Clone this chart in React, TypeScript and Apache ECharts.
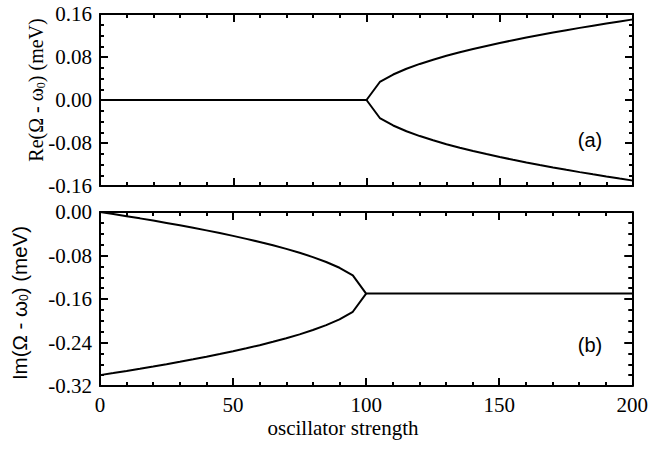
import React, { useEffect, useRef } from "react";
import * as echarts from "echarts";

const xs = [0, 5, 10, 15, 20, 25, 30, 35, 40, 45, 50, 55, 60, 65, 70, 75, 80, 85, 90, 95, 100,
  105, 110, 115, 120, 125, 130, 135, 140, 145, 150, 155, 160, 165, 170, 175, 180, 185, 190, 195, 200];

const reUpper = [0, 0, 0, 0, 0, 0, 0, 0, 0, 0, 0, 0, 0, 0, 0, 0, 0, 0, 0, 0, 0,
  0.0335, 0.0474, 0.0581, 0.0671, 0.075, 0.0822, 0.0887, 0.0949, 0.1006, 0.1061,
  0.1112, 0.1162, 0.1209, 0.1255, 0.1299, 0.1342, 0.1383, 0.1423, 0.1462, 0.15];

const reLower = [0, 0, 0, 0, 0, 0, 0, 0, 0, 0, 0, 0, 0, 0, 0, 0, 0, 0, 0, 0, 0,
  -0.0335, -0.0474, -0.0581, -0.0671, -0.075, -0.0822, -0.0887, -0.0949, -0.1006, -0.1061,
  -0.1112, -0.1162, -0.1209, -0.1255, -0.1299, -0.1342, -0.1383, -0.1423, -0.1462, -0.15];

const imUpper = [0, -0.0038, -0.0077, -0.0117, -0.0158, -0.0201, -0.0245, -0.0291, -0.0338, -0.0388,
  -0.0439, -0.0494, -0.0551, -0.0613, -0.0678, -0.075, -0.0829, -0.0919, -0.1026, -0.1165, -0.15,
  -0.15, -0.15, -0.15, -0.15, -0.15, -0.15, -0.15, -0.15, -0.15, -0.15,
  -0.15, -0.15, -0.15, -0.15, -0.15, -0.15, -0.15, -0.15, -0.15, -0.15];

const imLower = [-0.3, -0.2962, -0.2923, -0.2883, -0.2842, -0.2799, -0.2755, -0.2709, -0.2662, -0.2612,
  -0.2561, -0.2506, -0.2449, -0.2387, -0.2322, -0.225, -0.2171, -0.2081, -0.1974, -0.1835, -0.15];

const xTicks = [0, 50, 100, 150, 200];
const reTicks = [-0.16, -0.08, 0.0, 0.08, 0.16];
const imTicks = [-0.32, -0.24, -0.16, -0.08, 0.0];

const SERIF = "Liberation Serif";
const SANS = "Liberation Sans";

const pairs = (ys: number[]) => ys.map((y, i) => [xs[i], y]);

const fmt = (v: number) => (Math.abs(v) < 1e-9 ? "0.00" : v.toFixed(2));

export default function App() {
  const ref = useRef<HTMLDivElement>(null);
  useEffect(() => {
    if (!ref.current) return;
    const chart = echarts.init(ref.current, undefined, { renderer: "svg" });
    const axisLine = { show: true, onZero: false, lineStyle: { color: "#000", width: 2 } };
    const axisTick = { show: true, inside: true, length: 8, lineStyle: { color: "#000", width: 2 } };
    const minorTick = { show: true, length: 4, lineStyle: { color: "#000", width: 2 } };
    const labelStyle = {
      color: "#000",
      fontFamily: SERIF,
      fontSize: 21,
      fontWeight: "normal",
    };
    const xBase = (grid: number, pos: string, labels: boolean) => ({
      type: "value",
      gridIndex: grid,
      position: pos,
      min: xTicks[0],
      max: xTicks[xTicks.length - 1],
      interval: 50,
      axisLine,
      axisTick,
      minorTick: { ...minorTick, splitNumber: 5 },
      splitLine: { show: false },
      axisLabel: { show: labels, margin: 8, ...labelStyle },
    });
    const yBase = (grid: number, pos: string, labels: boolean, ticks: number[]) => ({
      type: "value",
      gridIndex: grid,
      position: pos,
      min: ticks[0],
      max: ticks[ticks.length - 1],
      interval: 0.08,
      axisLine,
      axisTick,
      minorTick: { ...minorTick, splitNumber: 4 },
      splitLine: { show: false },
      axisLabel: { show: labels, margin: 8, formatter: fmt, ...labelStyle },
    });
    const line = (xi: number, yi: number, ys: number[]) => ({
      type: "line",
      xAxisIndex: xi,
      yAxisIndex: yi,
      data: pairs(ys),
      showSymbol: false,
      symbol: "none",
      lineStyle: { color: "#000", width: 2 },
      z: 1,
    });
    chart.setOption({
      animation: false,
      backgroundColor: "#fff",
      textStyle: { fontFamily: SERIF, fontSize: 21, color: "#000" },
      grid: [
        { left: 100, top: 14, width: 533, height: 172 },
        { left: 100, top: 212, width: 533, height: 174 },
      ],
      xAxis: [
        xBase(0, "bottom", false),
        xBase(0, "top", false),
        xBase(1, "bottom", true),
        xBase(1, "top", false),
      ],
      yAxis: [
        yBase(0, "left", true, reTicks),
        yBase(0, "right", false, reTicks),
        yBase(1, "left", true, imTicks),
        yBase(1, "right", false, imTicks),
      ],
      series: [
        line(0, 0, reUpper),
        line(0, 0, reLower),
        line(2, 2, imUpper),
        line(2, 2, imLower),
      ],
      graphic: [
        {
          type: "text",
          x: 343,
          y: 428,
          style: {
            text: "oscillator strength",
            font: `21px "${SERIF}"`,
            fill: "#000",
            align: "center",
            verticalAlign: "middle",
          },
        },
        {
          type: "text",
          x: 36,
          y: 90,
          rotation: Math.PI / 2,
          style: {
            text: "Re(Ω - ω{sub|0}) (meV)",
            font: `20px "${SERIF}"`,
            fill: "#000",
            align: "center",
            verticalAlign: "middle",
            rich: {
              sub: { font: `12px "${SERIF}"`, fill: "#000", padding: [10, 0, 0, 0] },
            },
          },
        },
        {
          type: "text",
          x: 19,
          y: 303,
          rotation: Math.PI / 2,
          style: {
            text: "Im(Ω - ω{sub|0}) (meV)",
            font: `20.5px "${SANS}"`,
            fill: "#000",
            align: "center",
            verticalAlign: "middle",
            rich: {
              sub: { font: `12px "${SANS}"`, fill: "#000", padding: [10, 0, 0, 0] },
            },
          },
        },
        {
          type: "text",
          x: 590,
          y: 140,
          style: {
            text: "(a)",
            font: `20px "${SANS}"`,
            fill: "#000",
            align: "center",
            verticalAlign: "middle",
          },
        },
        {
          type: "text",
          x: 590,
          y: 345,
          style: {
            text: "(b)",
            font: `20px "${SANS}"`,
            fill: "#000",
            align: "center",
            verticalAlign: "middle",
          },
        },
      ],
    });
    return () => chart.dispose();
  }, []);
  return <div ref={ref} style={{ width: 651, height: 457, position: "absolute", left: 0, top: 0 }} />;
}
